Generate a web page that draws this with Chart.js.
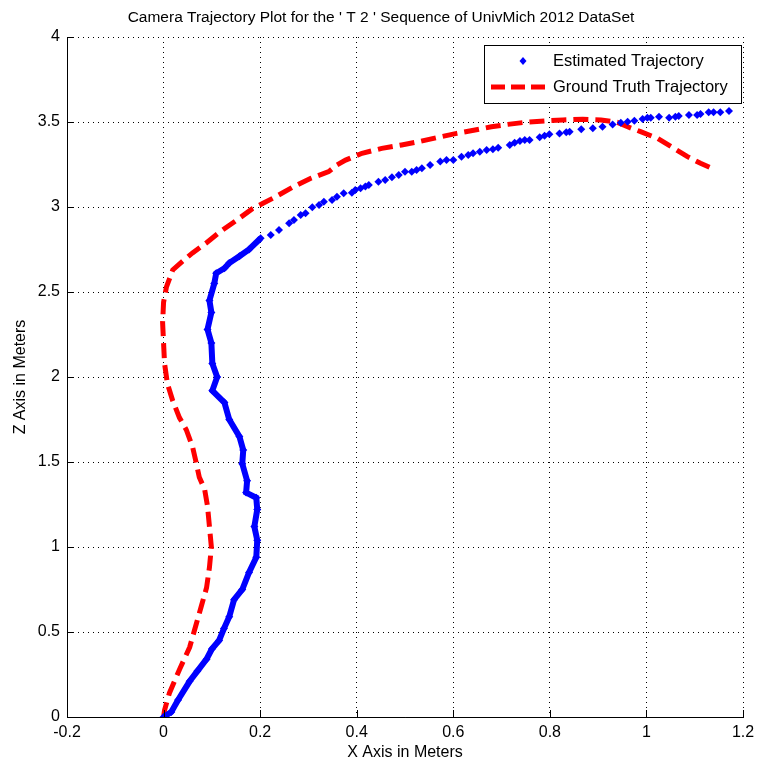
<!DOCTYPE html>
<html>
<head>
<meta charset="utf-8">
<script src="https://cdn.jsdelivr.net/npm/chart.js@4/dist/chart.umd.min.js"></script>
<style>
  html, body { margin: 0; padding: 0; background: #fff; }
  #wrap { width: 761px; height: 769px; }
</style>
</head>
<body>
<div id="wrap"><canvas id="traj" width="761" height="769"></canvas></div>
<script>
// estimated trajectory (blue dots)
const estX = [0, 0.016, 0.03, 0.054, 0.07, 0.089, 0.1, 0.115, 0.125, 0.136, 0.146, 0.163, 0.177, 0.192, 0.194, 0.188, 0.194, 0.192, 0.171, 0.173, 0.163, 0.165, 0.157, 0.136, 0.126, 0.101, 0.111, 0.101, 0.099, 0.091, 0.099, 0.095, 0.105, 0.109, 0.126, 0.136, 0.157, 0.177,
  0.201, 0.222, 0.239, 0.26, 0.27, 0.284, 0.294, 0.308, 0.322, 0.332, 0.349, 0.359, 0.373, 0.39, 0.397, 0.408, 0.418, 0.425, 0.445, 0.459, 0.473, 0.487, 0.5, 0.514, 0.524, 0.535, 0.552, 0.573, 0.586, 0.6, 0.617, 0.631, 0.641, 0.655, 0.669, 0.682,
  0.693, 0.717, 0.727, 0.738, 0.748, 0.758, 0.779, 0.789, 0.799, 0.82, 0.834, 0.841, 0.865, 0.889, 0.909, 0.93, 0.947, 0.961, 0.975, 0.992, 1.002, 1.009, 1.026, 1.047, 1.06, 1.067, 1.088, 1.105, 1.112, 1.129, 1.139, 1.153, 1.171];
const estZ = [0, 0.03, 0.1, 0.21, 0.27, 0.34, 0.4, 0.45, 0.52, 0.59, 0.69, 0.75, 0.85, 0.94, 1.04, 1.12, 1.22, 1.29, 1.32, 1.39, 1.49, 1.57, 1.65, 1.75, 1.85, 1.92, 2.0, 2.08, 2.2, 2.28, 2.38, 2.45, 2.55, 2.61, 2.64, 2.67, 2.71, 2.75,
  2.816, 2.835, 2.865, 2.904, 2.924, 2.953, 2.963, 2.998, 3.012, 3.031, 3.041, 3.061, 3.081, 3.084, 3.1, 3.11, 3.12, 3.129, 3.149, 3.159, 3.175, 3.188, 3.208, 3.208, 3.218, 3.228, 3.247, 3.267, 3.276, 3.276, 3.296, 3.306, 3.316, 3.325, 3.335, 3.339,
  3.349, 3.365, 3.378, 3.388, 3.394, 3.394, 3.41, 3.419, 3.428, 3.433, 3.439, 3.443, 3.457, 3.463, 3.472, 3.486, 3.496, 3.502, 3.508, 3.518, 3.525, 3.525, 3.531, 3.525, 3.531, 3.535, 3.541, 3.541, 3.547, 3.557, 3.557, 3.557, 3.565];

// ground truth trajectory (red dashed)
const gtX = [0, 0.002, 0.012, 0.033, 0.054, 0.068, 0.078, 0.089, 0.095, 0.099, 0.095, 0.091, 0.085, 0.074, 0.068, 0.06, 0.047, 0.033, 0.019, 0.008, 0.002, 0.0, -0.002, 0.0, 0.006, 0.019, 0.039, 0.06, 0.089, 0.115, 0.155, 0.184,
  0.205, 0.232, 0.267, 0.305, 0.342, 0.359, 0.377, 0.411, 0.452, 0.493, 0.528, 0.569, 0.607, 0.645, 0.679, 0.713, 0.748, 0.789, 0.827, 0.868, 0.906, 0.94, 0.961, 0.988, 1.023, 1.057, 1.085, 1.112, 1.142];
const gtZ = [0, 0.04, 0.14, 0.28, 0.41, 0.55, 0.65, 0.76, 0.88, 1.0, 1.12, 1.24, 1.34, 1.41, 1.49, 1.59, 1.69, 1.76, 1.86, 1.96, 2.08, 2.2, 2.32, 2.44, 2.53, 2.63, 2.68, 2.73, 2.79, 2.85, 2.93, 2.99,
  3.02, 3.06, 3.116, 3.169, 3.208, 3.247, 3.276, 3.316, 3.345, 3.365, 3.384, 3.41, 3.433, 3.453, 3.472, 3.486, 3.498, 3.506, 3.512, 3.516, 3.512, 3.498, 3.472, 3.443, 3.404, 3.345, 3.296, 3.257, 3.22];

const xMin = -0.2, xMax = 1.2, xStep = 0.2;
const zMin = 0, zMax = 4, zStep = 0.5;

const FONT = 'Liberation Sans, Arial, sans-serif';

function tickText(v) {
  const r = Math.round(v * 10) / 10;
  return r === 0 ? '0' : String(r);
}

// solid axes with inward ticks, title, legend box
const matlabBits = {
  id: 'matlabBits',
  afterDraw(chart) {
    const c = chart.ctx, a = chart.chartArea;
    const xs = chart.scales.x, ys = chart.scales.y;
    c.save();
    c.strokeStyle = '#000';
    c.lineWidth = 1;
    c.beginPath();
    c.moveTo(a.left + 0.5, a.top); c.lineTo(a.left + 0.5, a.bottom + 0.5);
    c.lineTo(a.right, a.bottom + 0.5);
    xs.ticks.forEach(t => {
      const px = Math.round(xs.getPixelForValue(t.value)) + 0.5;
      c.moveTo(px, a.bottom); c.lineTo(px, a.bottom - 7);
    });
    ys.ticks.forEach(t => {
      const py = Math.round(ys.getPixelForValue(t.value)) + 0.5;
      c.moveTo(a.left, py); c.lineTo(a.left + 7, py);
    });
    c.stroke();

    // title
    c.fillStyle = '#000';
    c.font = '15.5px ' + FONT;
    c.textAlign = 'center';
    c.textBaseline = 'middle';
    c.fillText("Camera Trajectory Plot for the ' T 2 ' Sequence of UnivMich 2012 DataSet", 381, 18);

    // legend
    const lx = 484, ly = 45, lw = 257, lh = 58;
    c.fillStyle = '#fff';
    c.fillRect(lx, ly, lw, lh);
    c.strokeStyle = '#000';
    c.strokeRect(lx + 0.5, ly + 0.5, lw, lh);
    c.fillStyle = '#0000ff';
    c.beginPath();
    c.moveTo(523, 57); c.lineTo(526.5, 61); c.lineTo(523, 65); c.lineTo(519.5, 61);
    c.closePath(); c.fill();
    c.strokeStyle = '#ff0000';
    c.lineWidth = 5;
    c.setLineDash([14, 6]);
    c.beginPath(); c.moveTo(491, 87); c.lineTo(549, 87); c.stroke();
    c.setLineDash([]);
    c.fillStyle = '#000';
    c.textAlign = 'left';
    c.font = '16.5px ' + FONT;
    c.fillText(chart.data.datasets[0].label, 553, 61);
    c.fillText(chart.data.datasets[1].label, 553, 87);
    c.restore();
  }
};

const ctx = document.getElementById('traj').getContext('2d');
new Chart(ctx, {
  type: 'scatter',
  data: {
    datasets: [
      {
        label: 'Estimated Trajectory',
        data: estX.map((x, i) => ({ x: x, y: estZ[i] })),
        showLine: true,
        borderColor: '#0000ff',
        borderWidth: 6,
        backgroundColor: '#0000ff',
        pointStyle: 'rectRot',
        pointRadius: 4,
        pointBorderWidth: 0,
        segment: {
          // dense lower part reads as a solid band, the sparse top as single dots
          borderColor: s => s.p1.parsed.y > 2.83 ? 'transparent' : undefined
        },
        order: 1
      },
      {
        label: 'Ground Truth Trajectory',
        data: gtX.map((x, i) => ({ x: x, y: gtZ[i] })),
        showLine: true,
        borderColor: '#ff0000',
        borderWidth: 5,
        borderDash: [15, 7],
        pointRadius: 0,
        fill: false,
        order: 2
      }
    ]
  },
  options: {
    responsive: false,
    animation: false,
    layout: { padding: { left: 0, right: 18, top: 37, bottom: 0 } },
    plugins: {
      legend: { display: false },
      tooltip: { enabled: false }
    },
    scales: {
      x: {
        type: 'linear',
        min: xMin, max: xMax,
        ticks: { stepSize: xStep, color: '#000', font: { family: FONT, size: 16 }, padding: 6, maxRotation: 0, callback: tickText },
        grid: { color: '#000', drawTicks: false, lineWidth: 1 },
        border: { display: true, color: '#000', width: 1, dash: [1, 4] },
        title: { display: true, text: 'X Axis in Meters', color: '#000', font: { family: FONT, size: 16 }, padding: { top: 4, bottom: 7 } },
        afterFit: s => { s.height = 52; }
      },
      y: {
        type: 'linear',
        min: zMin, max: zMax,
        ticks: { stepSize: zStep, color: '#000', font: { family: FONT, size: 16 }, padding: 7, callback: tickText },
        grid: { color: '#000', drawTicks: false, lineWidth: 1 },
        border: { display: true, color: '#000', width: 1, dash: [1, 4] },
        title: { display: true, text: 'Z Axis in Meters', color: '#000', font: { family: FONT, size: 16 }, padding: { top: 11, bottom: 0 } },
        afterFit: s => { s.width = 67; }
      }
    }
  },
  plugins: [matlabBits]
});
</script>
</body>
</html>
